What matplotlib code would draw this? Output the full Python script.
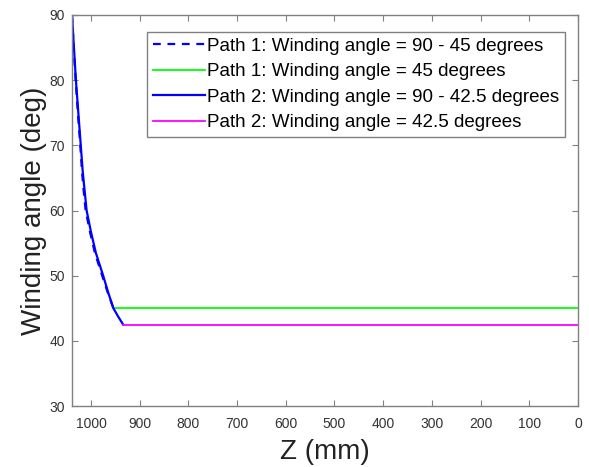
import matplotlib
matplotlib.use("Agg")
import matplotlib.pyplot as plt

plt.rcParams['font.family'] = ['Liberation Sans', 'DejaVu Sans']

# Path 1: transition 90 -> 45 degrees
z_path1 = [1039, 1035.5, 1031.5, 1027, 1022, 1018.5, 1015, 1011, 1002, 992, 977, 966, 954]
a_path1 = [90, 85, 80, 75, 70, 66, 63, 60, 56.7, 53.5, 50, 47.5, 45]
# Path 1 constant
z_path1_const = [954, 0]
a_path1_const = [45, 45]
# Path 2: transition 90 -> 42.5 degrees
z_path2 = [1039, 1035, 1031, 1026, 1021, 1017, 1013, 1009, 1000, 990, 975, 965, 954, 944, 934]
a_path2 = [90, 85, 80, 75, 70, 66, 63, 60, 56.7, 53.5, 50, 47.5, 45, 43.7, 42.5]
# Path 2 constant
z_path2_const = [934, 0]
a_path2_const = [42.5, 42.5]

labels = ["Path 1: Winding angle = 90 - 45 degrees",
          "Path 1: Winding angle = 45 degrees",
          "Path 2: Winding angle = 90 - 42.5 degrees",
          "Path 2: Winding angle = 42.5 degrees"]

xticks = [1000, 900, 800, 700, 600, 500, 400, 300, 200, 100, 0]
yticks = [30, 40, 50, 60, 70, 80, 90]

fig = plt.figure(figsize=(5.89, 4.67), dpi=100)
ax = fig.add_axes([72/589, 1 - 406/467, (578-72)/589, (406-15)/467])

ax.plot(z_path1, a_path1, color='#0000ff', ls=(0, (3.5, 3)), lw=1.6, label=labels[0])
ax.plot(z_path1_const, a_path1_const, color='#00ff00', lw=1.3, label=labels[1])
ax.plot(z_path2, a_path2, color='#0000ff', lw=1.6, label=labels[2])
ax.plot(z_path2_const, a_path2_const, color='#ff00ff', lw=1.3, label=labels[3])

ax.set_xlim(1039, 0)
ax.set_ylim(30, 90)
ax.set_xticks(xticks)
ax.set_yticks(yticks)

axcol = '#808080'
for s in ax.spines.values():
    s.set_color(axcol)
    s.set_linewidth(1.0)
ax.tick_params(direction='in', top=True, right=True, length=4, width=0.8,
               color=axcol, labelcolor='#333333', labelsize=10)
ax.tick_params(axis='x', pad=8)
ax.tick_params(axis='y', pad=5)

ax.set_xlabel('Z (mm)', fontsize=20, color='#222222', labelpad=6)
ax.set_ylabel('Winding angle (deg)', fontsize=20, color='#222222', labelpad=2)

leg = ax.legend(loc='upper right', bbox_to_anchor=(565/589, 1 - 32/467),
                bbox_transform=fig.transFigure, fontsize=13.5, frameon=True,
                fancybox=False, framealpha=1, edgecolor='#808080',
                handlelength=2.8, handletextpad=0.1, borderpad=0.3,
                labelspacing=0.45, borderaxespad=0)
leg.get_frame().set_linewidth(1.0)

fig.savefig('out.png', dpi=100)
